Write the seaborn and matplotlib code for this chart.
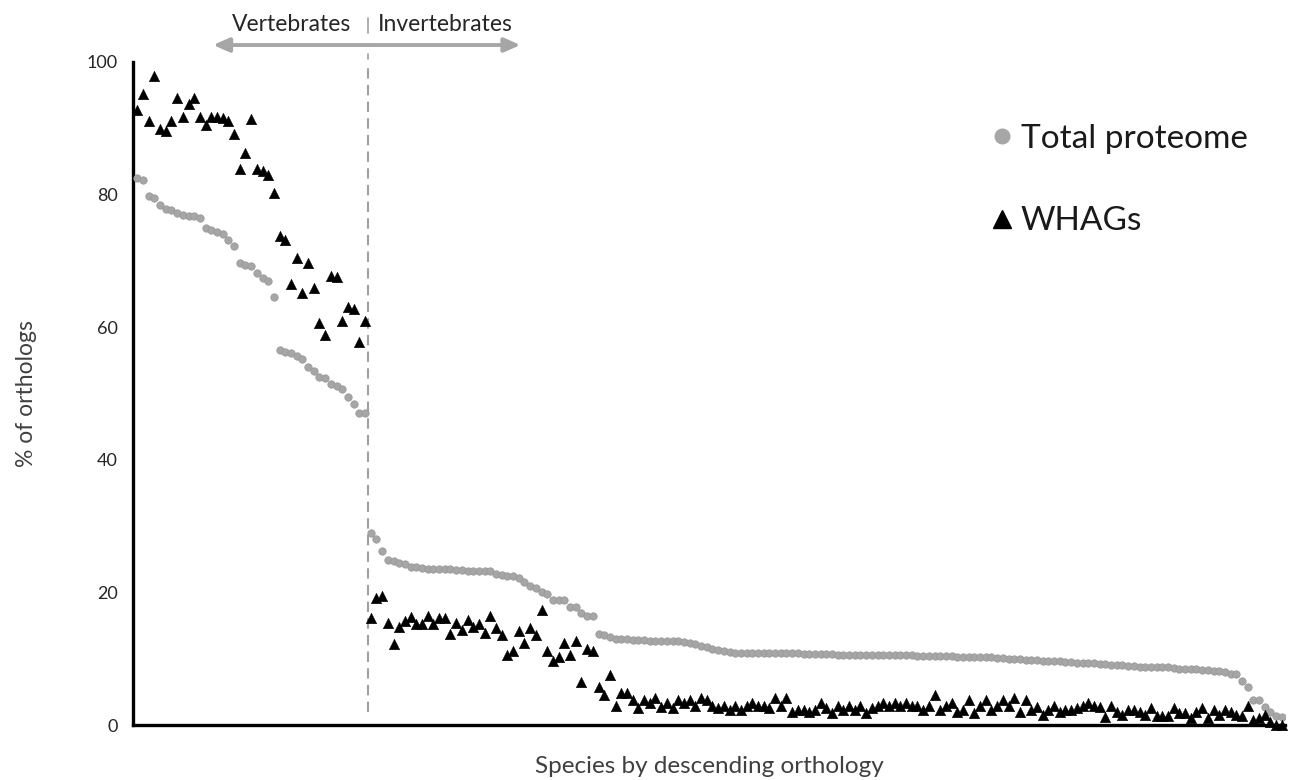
import numpy as np
import pandas as pd
import matplotlib
matplotlib.use("Agg")
import matplotlib.pyplot as plt
import matplotlib.transforms as mtransforms
from matplotlib.lines import Line2D
import seaborn as sns

# ---------------- data ----------------
series_names = ["Total proteome", "WHAGs"]
group_labels = ["Vertebrates", "Invertebrates"]
y_ticks = [0, 20, 40, 60, 80, 100]

total_vertebrates = [
    82.5, 82.2, 79.8, 79.5, 78.5, 77.9, 77.7, 77.2, 76.9, 76.8,
    76.7, 76.4, 75.0, 74.6, 74.4, 74.1, 73.1, 72.3, 69.7, 69.4,
    69.2, 68.1, 67.4, 66.9, 64.5, 56.6, 56.3, 56.1, 55.7, 55.2,
    54.0, 53.4, 52.5, 52.4, 51.4, 51.2, 50.7, 49.4, 48.4, 47.1,
    47.0,
]
total_invertebrates = [
    29.0, 28.1, 26.3, 24.9, 24.7, 24.5, 24.3, 23.9, 23.8, 23.7,
    23.6, 23.6, 23.5, 23.5, 23.5, 23.4, 23.4, 23.3, 23.3, 23.3,
    23.3, 23.2, 22.8, 22.6, 22.5, 22.4, 22.2, 21.5, 21.0, 20.6,
    20.1, 19.8, 18.9, 18.8, 18.8, 17.8, 17.8, 16.9, 16.5, 16.4,
    13.7, 13.5, 13.3,
    13.0, 12.9, 12.9, 12.8, 12.8, 12.8, 12.7, 12.7, 12.7, 12.6,
    12.6, 12.6, 12.5, 12.4,
    12.2, 11.9, 11.7, 11.5, 11.3, 11.2, 11.0,
    10.9, 10.9, 10.9, 10.8, 10.8, 10.8, 10.8, 10.8, 10.8, 10.8,
    10.8, 10.8, 10.7, 10.7,
    10.7, 10.7, 10.7, 10.7, 10.6, 10.6, 10.6, 10.6, 10.6, 10.6,
    10.6, 10.5, 10.5, 10.5, 10.5, 10.5, 10.5, 10.5, 10.4, 10.4,
    10.4, 10.4, 10.4, 10.4, 10.4,
    10.3, 10.3, 10.3, 10.3, 10.2, 10.2, 10.2, 10.1, 10.1, 10.0,
    10.0, 9.9, 9.8, 9.8, 9.8, 9.7, 9.7, 9.7, 9.6, 9.5,
    9.5, 9.4, 9.4, 9.3, 9.3, 9.2, 9.2, 9.1, 9.0, 9.0,
    8.9, 8.9, 8.8, 8.8,
    8.7, 8.7, 8.7, 8.7, 8.6, 8.45, 8.45, 8.4, 8.4, 8.3,
    8.3, 8.2, 8.2, 8.05, 7.65, 7.65, 6.6, 5.8, 3.8, 3.8,
    2.7, 2.0, 1.4, 1.2,
]
whags_vertebrates = [
    92.8, 95.1, 91.1, 97.9, 89.9, 89.6, 91.1, 94.5, 91.7, 93.6,
    94.5, 91.7, 90.5, 91.7, 91.7, 91.6, 91.1, 89.2, 83.9, 86.2,
    91.4, 83.8, 83.5, 83.0, 80.2, 73.8, 73.2, 66.5, 70.5, 65.1,
    69.7, 65.9, 60.7, 58.8, 67.7, 67.5, 60.9, 63.1, 62.7, 57.7,
    60.9,
]
whags_invertebrates = [
    16.1, 19.1, 19.4, 15.4, 12.2, 14.8, 15.7, 16.3, 15.2, 15.2,
    16.4, 15.2, 16.2, 16.2, 13.8, 15.4, 14.3, 15.8, 14.8, 15.2,
    13.9, 16.4, 14.6, 13.6, 10.6, 11.2, 14.2, 12.4, 14.6, 13.6,
    17.3, 11.2, 9.6, 10.3, 12.4, 10.6, 12.7, 6.5, 11.5, 11.2,
    5.7, 4.5, 7.5,
    2.9, 4.8, 4.8, 3.7, 2.5, 3.7, 3.3, 4.0, 2.7, 3.3,
    2.5, 3.7, 3.3, 3.7, 2.9, 4.0, 3.7, 2.9, 2.5, 2.9,
    2.2, 2.9, 2.2, 2.9, 3.3, 2.9, 2.9, 2.5, 4.0, 2.9,
    4.0, 1.9, 2.2, 2.2, 1.9, 2.2, 3.3, 2.5, 1.8, 2.9,
    2.2, 2.9, 2.2, 2.9, 1.8, 2.5, 2.9, 3.3, 2.9, 3.3,
    2.9, 3.3, 2.9, 2.9, 2.2, 2.9, 4.6, 2.2, 2.9, 3.3,
    2.0, 2.3, 3.7, 1.8, 2.9, 3.7, 2.3, 2.9, 3.7, 2.9,
    4.0, 2.0, 3.7, 2.3, 2.7, 1.5, 2.3, 2.9, 1.9, 2.3,
    2.3, 2.5, 2.9, 3.3, 2.9, 2.7, 1.2, 2.9, 1.9, 1.5,
    2.3, 2.3, 1.9, 1.5,
    2.5, 1.3, 1.3, 1.3, 2.5, 1.8, 1.8, 1.0, 2.0, 2.5,
    1.0, 2.3, 1.5, 2.3, 2.0, 1.5, 1.3, 2.8, 0.75, 1.0,
    1.5, 0.5, 0.0, 0.0,
]

total_vals = total_vertebrates + total_invertebrates
whags_vals = whags_vertebrates + whags_invertebrates
n = len(total_vals)
assert n == len(whags_vals), (n, len(whags_vals))
n_vert = len(total_vertebrates)

df = pd.DataFrame({
    "species": list(range(n)) * 2,
    "pct": total_vals + whags_vals,
    "series": [series_names[0]] * n + [series_names[1]] * n,
})

# ---------------- figure ----------------
sns.set_theme(style="white")
plt.rcParams["font.family"] = ["Lato", "DejaVu Sans"]

fig = plt.figure(figsize=(13.1, 7.8), dpi=100)
ax = fig.add_axes([133 / 1310, 1 - 725 / 780, (1285 - 133) / 1310, (725 - 62) / 780])

grey = "#A6A6A6"
sns.scatterplot(data=df[df.series == series_names[0]], x="species", y="pct",
                color=grey, marker="o", s=28, edgecolor="#9A9A9A", linewidth=0.6,
                ax=ax, legend=False, zorder=3)
sns.scatterplot(data=df[df.series == series_names[1]], x="species", y="pct",
                color="black", marker="^", s=58, edgecolor="black", linewidth=0.3,
                ax=ax, legend=False, zorder=4, clip_on=False)

ax.set_xlim(-0.75, n - 1 + 0.55)
ax.set_ylim(0, 100)
ax.set_yticks(y_ticks)
ax.set_yticklabels([str(t) for t in y_ticks], fontsize=13, color="#262626")
ax.tick_params(axis="y", length=0, pad=11)
ax.set_xticks([])

for side in ["top", "right"]:
    ax.spines[side].set_visible(False)
for side in ["left", "bottom"]:
    ax.spines[side].set_color("black")
    ax.spines[side].set_linewidth(2.4)

ax.set_xlabel("Species by descending orthology", fontsize=17.5, color="#404040", labelpad=22)
ax.set_ylabel("% of orthologs", fontsize=16.5, color="#404040", labelpad=36)

# divider between vertebrates and invertebrates
split_x = n_vert - 0.5
ax.plot([split_x, split_x], [1.9, 99.5], color="#A0A0A0", lw=1.5,
        linestyle=(0, (5, 3)), zorder=2)

trans = mtransforms.blended_transform_factory(ax.transData, ax.transAxes)
for end_x in (13.3, 67.3):
    ax.annotate("", xy=(end_x, 1.0256), xytext=(split_x, 1.0256), xycoords=trans,
                textcoords=trans,
                arrowprops=dict(arrowstyle="-|>,head_length=0.8,head_width=0.35",
                                color="#A6A6A6", lw=2.8, shrinkA=0, shrinkB=0),
                annotation_clip=False)
ax.plot([split_x, split_x], [1.043, 1.066], transform=trans, color="#A0A0A0",
        lw=1.2, clip_on=False)
ax.plot([split_x, split_x], [1.005, 1.012], transform=trans, color="#A0A0A0",
        lw=1.2, clip_on=False)
ax.text(split_x - 3.0, 1.056, group_labels[0], transform=trans, ha="right",
        va="center", fontsize=16.5, color="#262626")
ax.text(split_x + 1.7, 1.056, group_labels[1], transform=trans, ha="left",
        va="center", fontsize=16.5, color="#262626")

handles = [
    Line2D([], [], linestyle="none", marker="o", markersize=10.5,
           markerfacecolor=grey, markeredgecolor=grey),
    Line2D([], [], linestyle="none", marker="^", markersize=13.5,
           markerfacecolor="black", markeredgecolor="black"),
]
leg = ax.legend(handles, series_names, loc="upper left",
                bbox_to_anchor=((989 - 133) / 1152, 1 - (124 - 62) / 663),
                frameon=False, fontsize=24, labelspacing=1.57,
                handletextpad=0.15, handlelength=0.8, borderpad=0,
                borderaxespad=0)
for t in leg.get_texts():
    t.set_color("#1a1a1a")

fig.savefig("out.png", dpi=100)
